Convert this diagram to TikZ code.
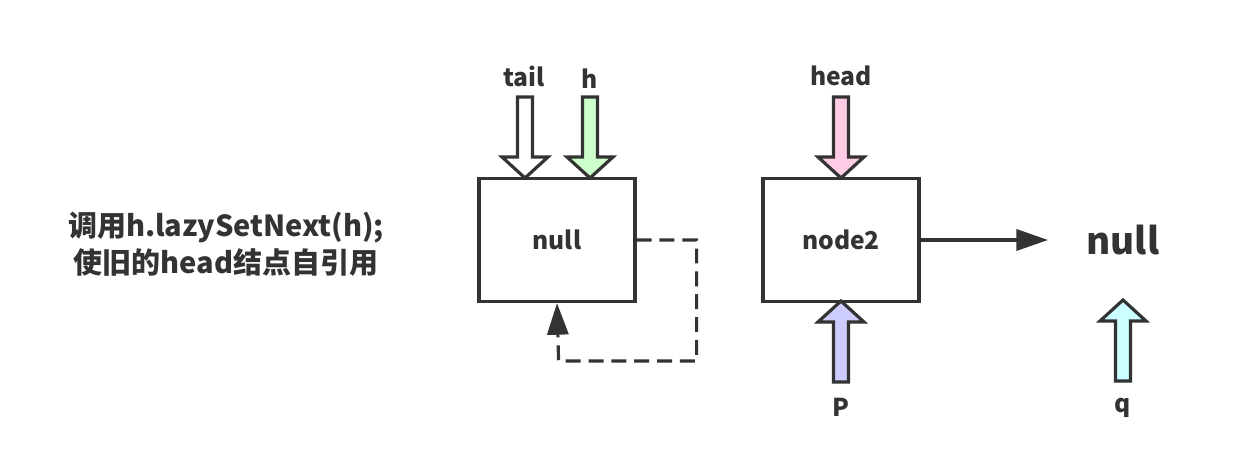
\documentclass[tikz,border=0pt]{standalone}
\usepackage{fontspec}
\setmainfont{Noto Sans CJK SC}
\usetikzlibrary{arrows.meta}
\definecolor{ink}{HTML}{333333}
\definecolor{hgreen}{HTML}{CCFFCC}
\definecolor{headpink}{HTML}{FFCCE6}
\definecolor{plilac}{HTML}{CCCCFF}
\definecolor{qcyan}{HTML}{CCFFFF}
\tikzset{listnode/.style = {draw=ink, line width=1.8pt, minimum width=156*0.02cm,
                            minimum height=123*0.02cm, inner sep=0,
                            font=\bfseries\fontsize{14}{16}\selectfont, text=ink}}
\tikzset{lbl/.style = {font=\bfseries\fontsize{14}{16}\selectfont, text=ink}}
\tikzset{link/.style = {draw=ink, line width=1.8pt,
                        -{Triangle[length=18pt, width=12pt]}}}
\tikzset{selfref/.style = {link, dash pattern=on 8.5pt off 4.5pt}}
\tikzset{pics/ptr/.style = {code = {
    \draw[ink, line width=1.8pt, line join=miter, fill=#1]
      (0,0) -- (-23,-21) -- (-7.5,-21) -- (-7.5,-81) -- (7.5,-81)
      -- (7.5,-21) -- (23,-21) -- cycle;}}}

\begin{document}
\begin{tikzpicture}[x=0.02cm, y=-0.02cm]
    \useasboundingbox (0,0) rectangle (1249,472);

    \node [lbl, align=center, font=\bfseries\fontsize{16.5}{21}\selectfont] (note) at (226,244)
        {调用h.lazySetNext(h);\\使旧的head结点自引用};

    \node [listnode] (old) at (557,240) {null};
    \node [listnode] (cur) at (841,240) {node2};
    \node [lbl, font=\bfseries\fontsize{21}{24}\selectfont] (end) at (1123,240) {null};
    \coordinate (endtip) at (1048,240);

    % pointers
    \pic at (525,178) {ptr=white};
    \pic at (590,178) {ptr=hgreen};
    \pic at (841,178) {ptr=headpink};
    \pic [rotate=180] at (841,301) {ptr=plilac};
    \pic [rotate=180] at (1123,300) {ptr=qcyan};

    \node [lbl] (tail) at (524,76) {tail};
    \node [lbl] (h) at (590,79) {h};
    \node [lbl] (head) at (841,76) {head};
    \node [lbl] (p) at (841,407) {P};
    \node [lbl] (q) at (1123,408) {q};

    \draw [link] (cur.east) -- (endtip);
    \draw [selfref] (old.east) -- ++(60,0) -- ++(0,121) -- ++(-138,0) -- (old.south);
\end{tikzpicture}
\end{document}
